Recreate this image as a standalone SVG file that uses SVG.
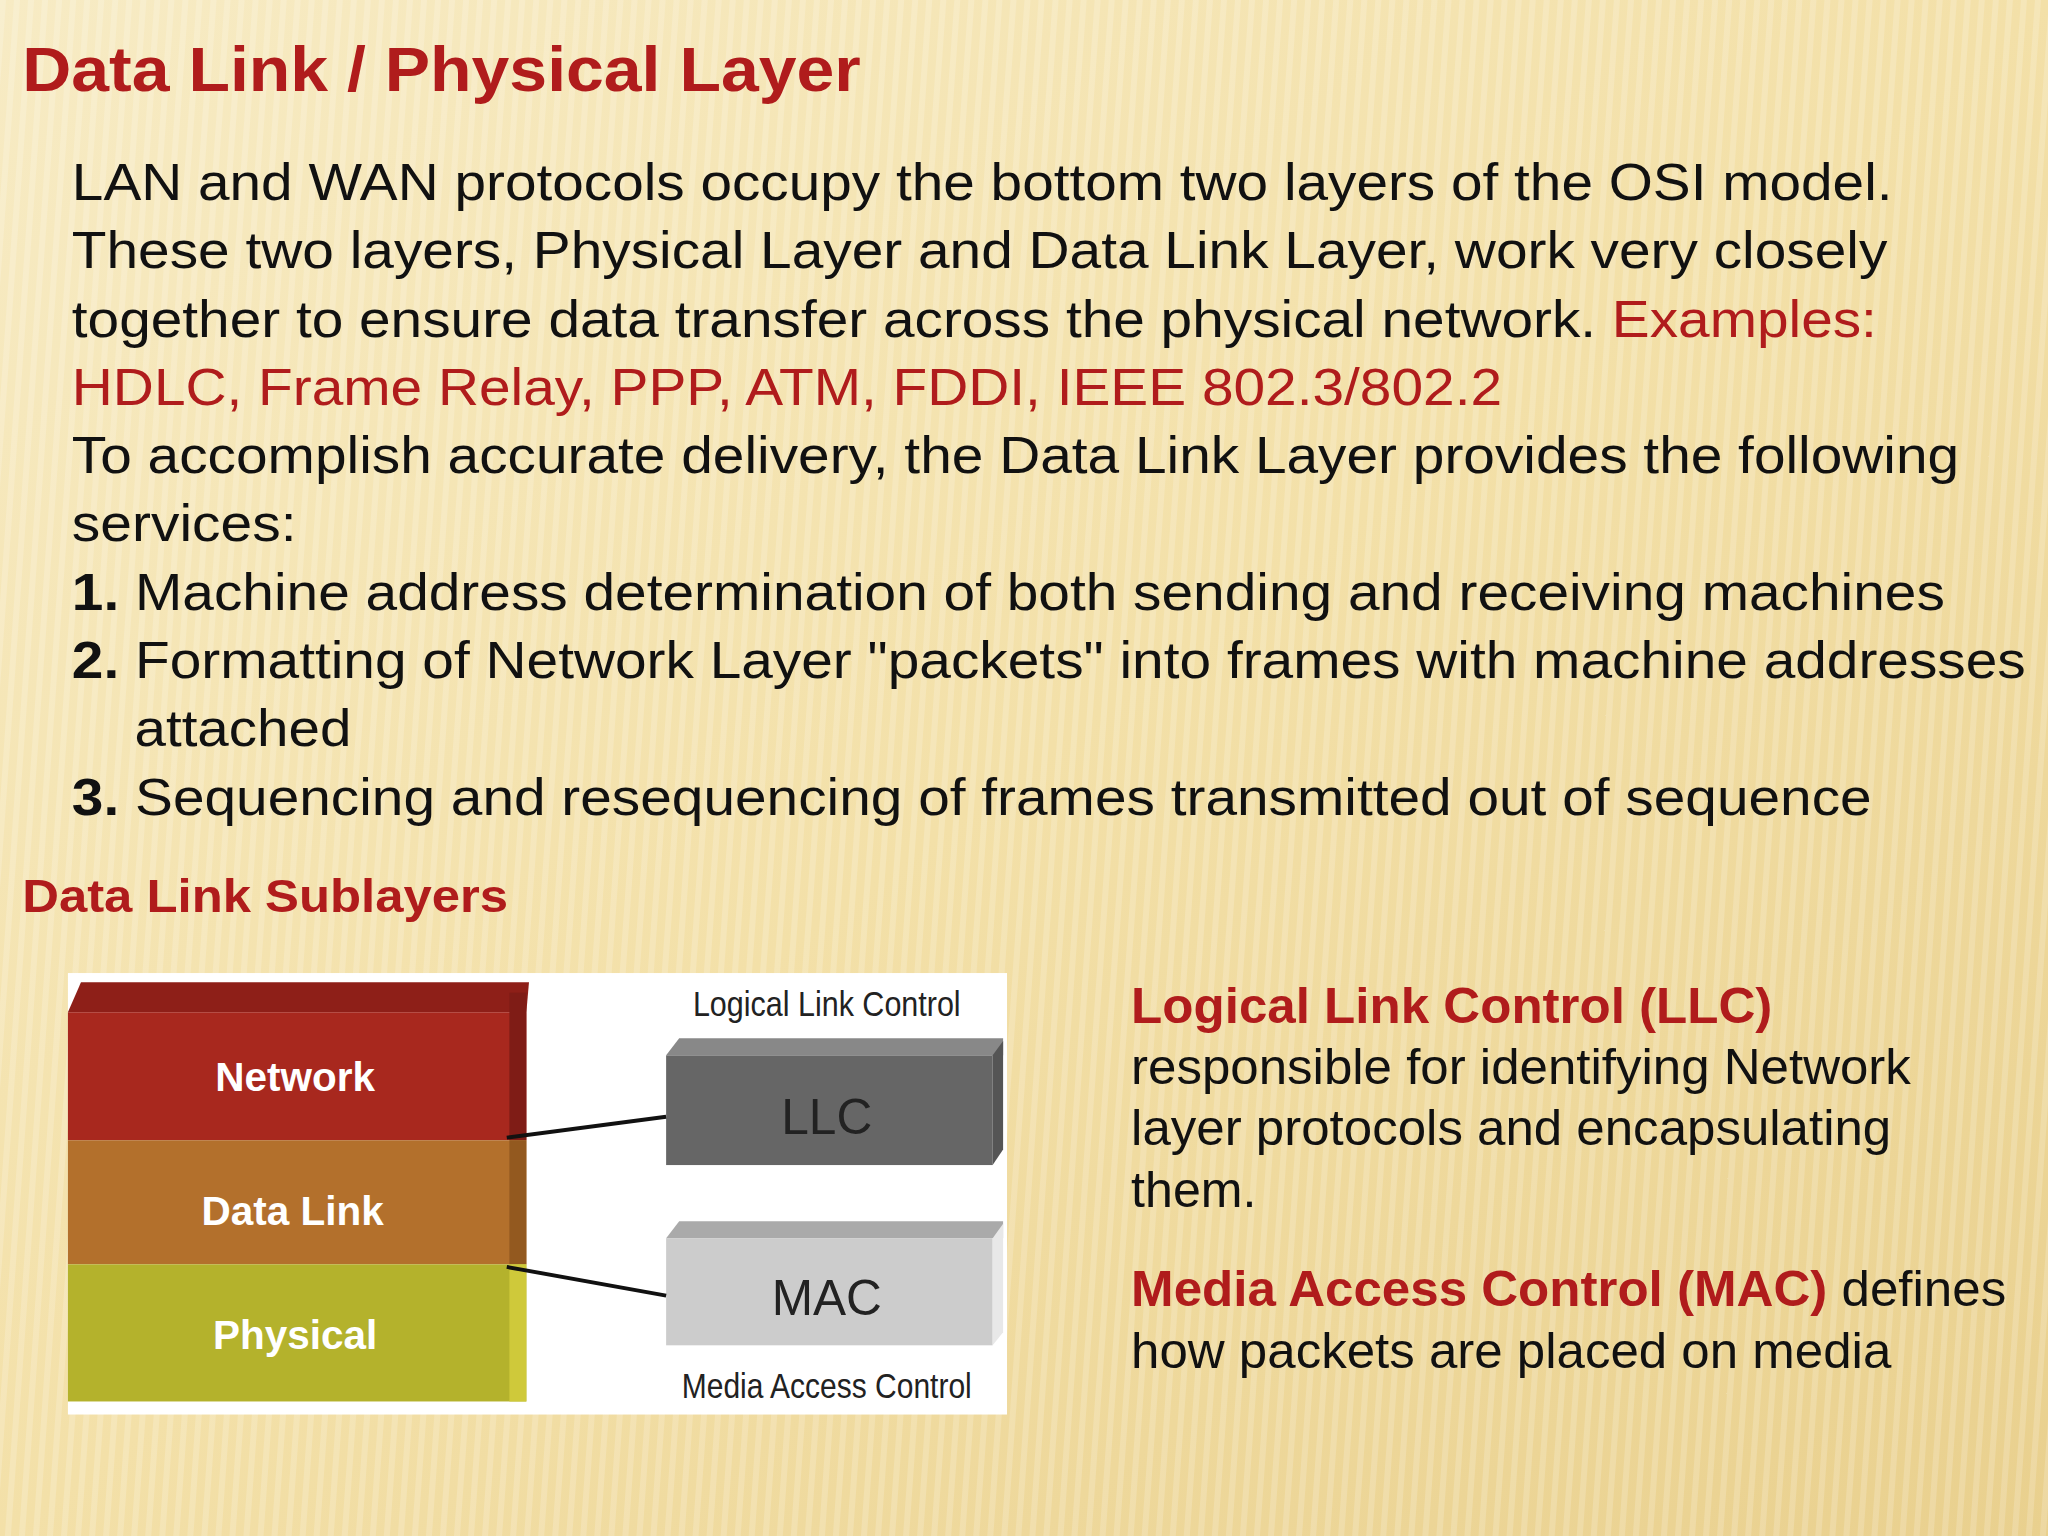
<svg xmlns="http://www.w3.org/2000/svg" width="2048" height="1536" viewBox="0 0 2048 1536">
<defs>
<linearGradient id="bg" x1="0" y1="0" x2="1" y2="1">
<stop offset="0" stop-color="#f7ebc4"/><stop offset="0.5" stop-color="#f3e0a8"/><stop offset="1" stop-color="#e9d08e"/>
</linearGradient>
<pattern id="stripes" width="14" height="40" patternUnits="userSpaceOnUse" patternTransform="rotate(4)">
<rect width="6" height="40" fill="#ffffff" opacity="0.18"/>
</pattern>
<style>
.t{font-family:"Liberation Sans",Arial,sans-serif;fill:#111}
.r{fill:#b01c1c}
.b{font-weight:bold}
.w{font-family:"Liberation Sans",Arial,sans-serif;fill:#fff;font-weight:bold;font-size:31px;text-anchor:middle}
.g{font-family:"Liberation Sans",Arial,sans-serif;fill:#222;text-anchor:middle}
</style>
</defs>
<rect width="2048" height="1536" fill="url(#bg)"/>
<rect width="2048" height="1536" fill="url(#stripes)"/>
<g transform="scale(1.30612)">
<text class="t r b" x="17" y="70" font-size="48" textLength="642" lengthAdjust="spacingAndGlyphs">Data Link / Physical Layer</text>
<g class="t" font-size="40">
<text x="55" y="153" textLength="1394" lengthAdjust="spacingAndGlyphs">LAN and WAN protocols occupy the bottom two layers of the OSI model.</text>
<text x="55" y="205" textLength="1390" lengthAdjust="spacingAndGlyphs">These two layers, Physical Layer and Data Link Layer, work very closely</text>
<text x="55" y="258" textLength="1382" lengthAdjust="spacingAndGlyphs">together to ensure data transfer across the physical network. <tspan class="r">Examples:</tspan></text>
<text x="55" y="310" class="t r" textLength="1095" lengthAdjust="spacingAndGlyphs">HDLC, Frame Relay, PPP, ATM, FDDI, IEEE 802.3/802.2</text>
<text x="55" y="362" textLength="1445" lengthAdjust="spacingAndGlyphs">To accomplish accurate delivery, the Data Link Layer provides the following</text>
<text x="55" y="414" textLength="172" lengthAdjust="spacingAndGlyphs">services:</text>
<text x="55" y="467" textLength="1434" lengthAdjust="spacingAndGlyphs"><tspan class="b">1.</tspan> Machine address determination of both sending and receiving machines</text>
<text x="55" y="519" textLength="1496" lengthAdjust="spacingAndGlyphs"><tspan class="b">2.</tspan> Formatting of Network Layer "packets" into frames with machine addresses</text>
<text x="103" y="571" textLength="166" lengthAdjust="spacingAndGlyphs">attached</text>
<text x="55" y="624" textLength="1378" lengthAdjust="spacingAndGlyphs"><tspan class="b">3.</tspan> Sequencing and resequencing of frames transmitted out of sequence</text>
</g>
<text class="t r b" x="17" y="698" font-size="35" textLength="372" lengthAdjust="spacingAndGlyphs">Data Link Sublayers</text>
<g id="diagram">
<rect x="52" y="745" width="719" height="338" fill="#fff"/>
<g id="network"><polygon points="52,775 62,752 405,752 403,775" fill="#8e1f18"/><rect x="52" y="775" width="351" height="98" fill="#a8281e"/><rect x="390" y="760" width="13" height="113" fill="#7f1c16"/><text class="w" x="226" y="835">Network</text></g>
<g id="datalink"><rect x="52" y="873" width="351" height="95" fill="#b3702c"/><rect x="390" y="873" width="13" height="95" fill="#93591f"/><text class="w" x="224" y="938">Data Link</text></g>
<g id="physical"><rect x="52" y="968" width="351" height="105" fill="#b4b22c"/><rect x="390" y="968" width="13" height="105" fill="#cfc93a"/><text class="w" x="226" y="1033">Physical</text></g>
<g id="llc"><polygon points="510,808 520,795 768,795 768,808" fill="#888"/><rect x="510" y="808" width="250" height="84" fill="#666"/><polygon points="760,808 768,797 768,880 760,892" fill="#555"/><text class="g" x="633" y="868" font-size="38">LLC</text><text class="g" x="633" y="778" font-size="27" textLength="205" lengthAdjust="spacingAndGlyphs">Logical Link Control</text></g>
<g id="mac"><polygon points="510,948 520,935 768,935 768,948" fill="#aaa"/><rect x="510" y="948" width="250" height="82" fill="#ccc"/><polygon points="760,948 768,937 768,1020 760,1030" fill="#e8e8e8"/><text class="g" x="633" y="1007" font-size="38">MAC</text><text class="g" x="633" y="1070" font-size="27" textLength="222" lengthAdjust="spacingAndGlyphs">Media Access Control</text></g>
<g id="connectors" stroke="#111" stroke-width="3"><line x1="388" y1="871" x2="510" y2="855"/><line x1="388" y1="970" x2="510" y2="992"/></g>
</g>
<g class="t" font-size="38">
<text x="866" y="783" class="t r b" textLength="491" lengthAdjust="spacingAndGlyphs">Logical Link Control (LLC)</text>
<text x="866" y="830" textLength="597" lengthAdjust="spacingAndGlyphs">responsible for identifying Network</text>
<text x="866" y="877" textLength="582" lengthAdjust="spacingAndGlyphs">layer protocols and encapsulating</text>
<text x="866" y="924" textLength="96" lengthAdjust="spacingAndGlyphs">them.</text>
<text x="866" y="1000" textLength="670" lengthAdjust="spacingAndGlyphs"><tspan class="r b">Media Access Control (MAC)</tspan> defines</text>
<text x="866" y="1047" textLength="582" lengthAdjust="spacingAndGlyphs">how packets are placed on media</text>
</g>
</g>
</svg>
